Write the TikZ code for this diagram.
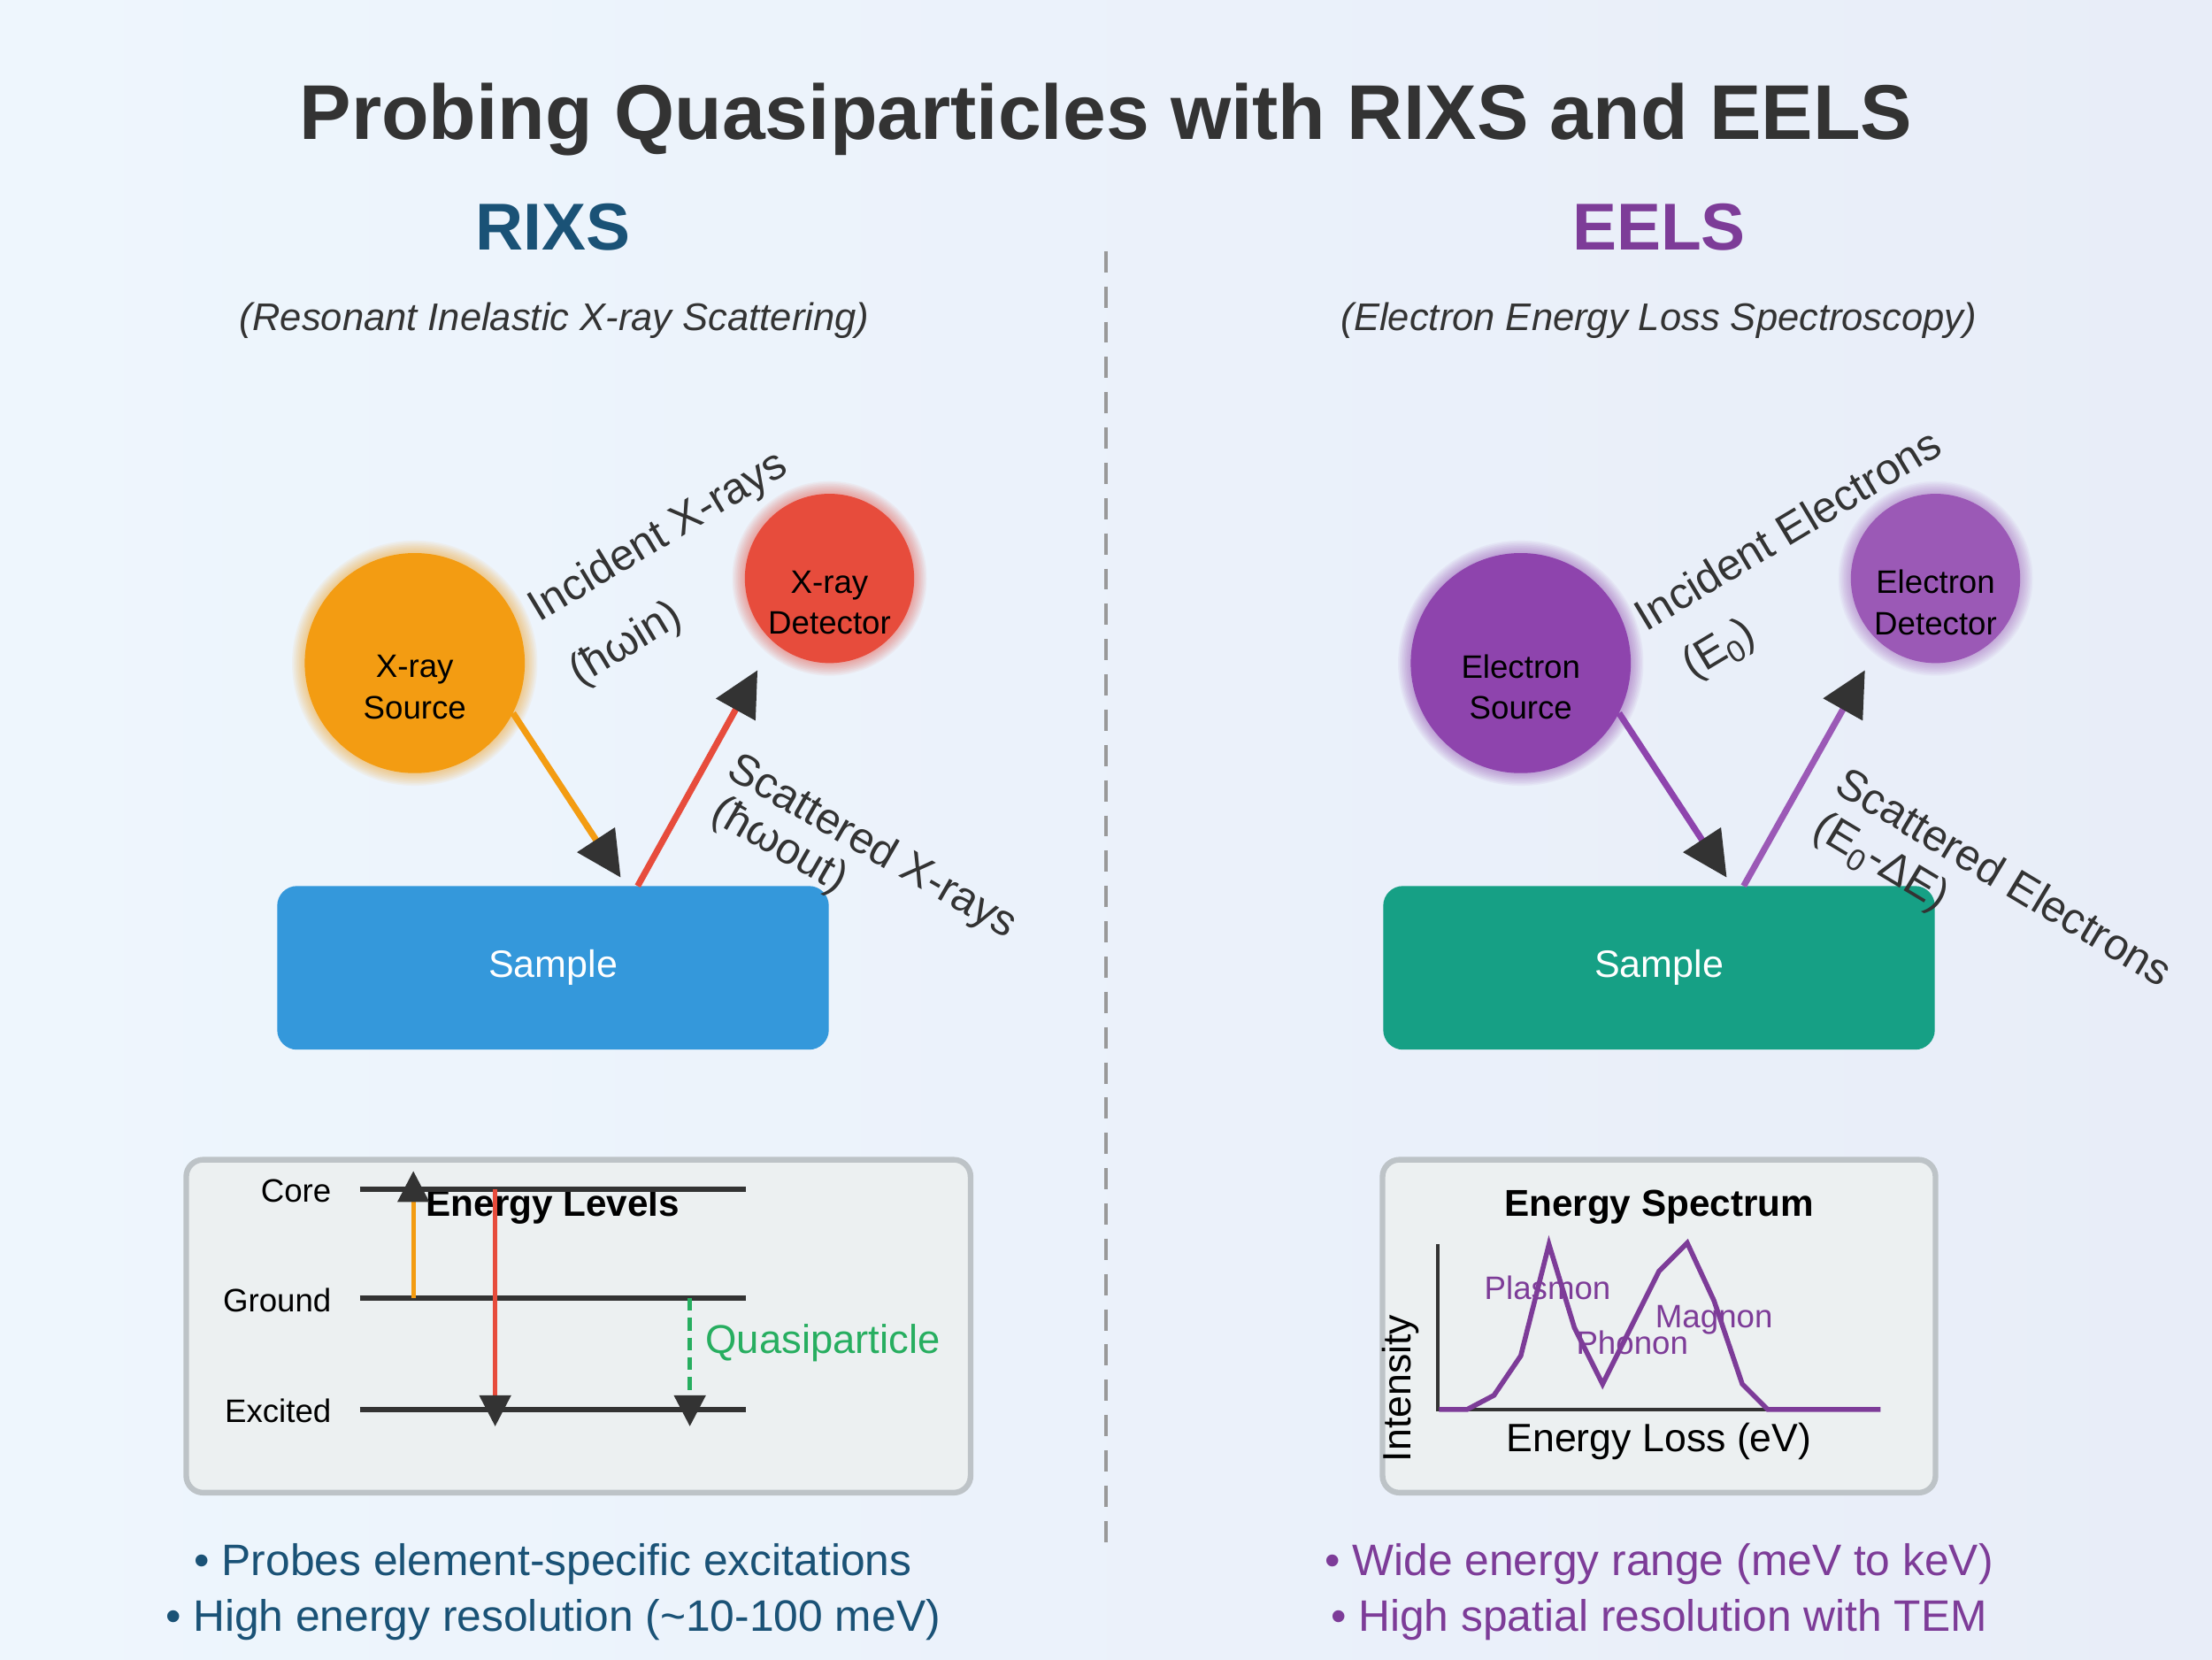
\documentclass[tikz,border=0pt]{standalone}
\usepackage{fontspec}
\setmainfont{Liberation Sans}
\usetikzlibrary{arrows.meta,positioning,calc}

\definecolor{TitleGray}{HTML}{333333}
\definecolor{RixsBlue}{HTML}{1A5276}
\definecolor{EelsPurple}{HTML}{7D3C98}
\definecolor{XraySource}{HTML}{F39C12}
\definecolor{XrayDetector}{HTML}{E74C3C}
\definecolor{ElecSource}{HTML}{8E44AD}
\definecolor{ElecDetector}{HTML}{9B59B6}
\definecolor{SampleBlue}{HTML}{3498DB}
\definecolor{SampleTeal}{HTML}{16A085}
\definecolor{HeadDark}{HTML}{333333}
\definecolor{PanelFill}{HTML}{ECF0F1}
\definecolor{PanelEdge}{HTML}{BDC3C7}
\definecolor{QuasiGreen}{HTML}{27AE60}
\definecolor{DividerGray}{HTML}{999999}
\definecolor{BgLeft}{HTML}{EEF6FD}
\definecolor{BgRight}{HTML}{E8EDF8}

\newcommand{\fs}[2]{\fontsize{#1}{#2}\selectfont}
% soft halo round a disc
\newcommand{\glowdisc}[3]{%
    \foreach \g in {1,...,9}{\fill[#3, opacity=0.06] (#1) circle[radius={#2pt+\g pt}];}}

\tikzset{
    % Base text style
    basetext/.style={
        inner sep=0pt,
        text=TitleGray
    },
    % Headings
    titlenode/.style={basetext, font=\fs{55}{66}\bfseries},
    headnode/.style={basetext, font=\fs{47}{56}\bfseries},
    subnode/.style={basetext, font=\fs{27.3}{32}\itshape},
    % Sources and detectors
    sourcenode/.style={
        circle,
        minimum size=156pt,
        inner sep=0pt
    },
    detectornode/.style={
        circle,
        minimum size=120pt,
        inner sep=0pt
    },
    disctext/.style={basetext, text=black, align=center, font=\fs{23}{29}},
    % Sample block
    samplenode/.style={
        rounded corners=14pt,
        minimum width=391pt,
        minimum height=116pt,
        text=white,
        font=\fs{27}{32}
    },
    % Beam labels
    beamlabel/.style={basetext, font=\fs{31}{37}},
    % Beam arrow
    myarrow/.style={
        line width=4.5pt,
        -{Triangle[length=32pt,width=31pt,color=HeadDark]}
    },
    % Inset panels
    panelbox/.style={
        draw=PanelEdge,
        fill=PanelFill,
        line width=4pt,
        rounded corners=12pt
    },
    paneltitle/.style={basetext, text=black, font=\fs{26.5}{31}\bfseries},
    levellabel/.style={basetext, text=black, font=\fs{23}{27}},
    levelline/.style={draw=HeadDark, line width=4pt},
    levelarrow/.style={
        line width=3pt,
        -{Triangle[length=22pt,width=22pt,color=HeadDark]}
    },
    peaklabel/.style={basetext, text=EelsPurple, font=\fs{23}{27}},
    axislabel/.style={basetext, text=black, font=\fs{28}{33}},
    % Bullet lines
    bulletnode/.style={basetext, font=\fs{31.2}{37}}
}

\begin{document}
\begin{tikzpicture}[x=1pt, y=-1pt]
    % Background
    \shade[left color=BgLeft, right color=BgRight] (0,0) rectangle (1568,1176);
    \useasboundingbox (0,0) rectangle (1568,1176);

    % Titles
    \node[titlenode, anchor=base] (title) at (784,99) {Probing Quasiparticles with RIXS and EELS};
    \node[headnode, anchor=base, text=RixsBlue] (rixs) at (392,177) {RIXS};
    \node[headnode, anchor=base, text=EelsPurple] (eels) at (1176,177) {EELS};
    \node[subnode, anchor=base] (rixssub) at (393,234) {(Resonant Inelastic X-ray Scattering)};
    \node[subnode, anchor=base] (eelssub) at (1176,234) {(Electron Energy Loss Spectroscopy)};

    % Divider
    \coordinate (divtop) at (784,178);
    \coordinate (divbot) at (784,1097);
    \draw[DividerGray, line width=3pt, dash pattern=on 15pt off 10pt] (divtop) -- (divbot);

    % RIXS setup
    \coordinate (xsrcC) at (294,470);
    \coordinate (xdetC) at (588,410);
    \glowdisc{xsrcC}{78}{XraySource}
    \glowdisc{xdetC}{60}{XrayDetector}
    \node[sourcenode, fill=XraySource] (xsrc) at (xsrcC) {};
    \node[detectornode, fill=XrayDetector] (xdet) at (xdetC) {};
    \node[disctext] (xsrctxt) at (294,487) {X-ray\\Source};
    \node[disctext] (xdettxt) at (588,427) {X-ray\\Detector};
    \node[samplenode, fill=SampleBlue] (xsample) at (392,686) {Sample};

    \coordinate (xhit) at (440,622);
    \coordinate (xout) at (452,628);
    \coordinate (xcatch) at (537,475);
    \draw[myarrow, draw=XraySource] (xsrc.-27) -- (xhit);
    \draw[myarrow, draw=XrayDetector] (xout) -- (xcatch);

    \node[beamlabel, rotate=31] (xinlbl) at (467,381) {Incident X-rays};
    \node[beamlabel, rotate=31] (xinE) at (444,457) {(ħωin)};
    \node[beamlabel, rotate=-30] (xoutlbl) at (618,601) {Scattered X-rays};
    \node[beamlabel, rotate=-30] (xoutE) at (552,600) {(ħωout)};

    % EELS setup
    \coordinate (esrcC) at (1078,470);
    \coordinate (edetC) at (1372,410);
    \glowdisc{esrcC}{78}{ElecSource}
    \glowdisc{edetC}{60}{ElecDetector}
    \node[sourcenode, fill=ElecSource] (esrc) at (esrcC) {};
    \node[detectornode, fill=ElecDetector] (edet) at (edetC) {};
    \node[disctext] (esrctxt) at (1078,487) {Electron\\Source};
    \node[disctext] (edettxt) at (1372,427) {Electron\\Detector};
    \node[samplenode, fill=SampleTeal] (esample) at (1176,686) {Sample};

    \coordinate (ehit) at (1224,622);
    \coordinate (eout) at (1236,628);
    \coordinate (ecatch) at (1322,475);
    \draw[myarrow, draw=ElecSource] (esrc.-27) -- (ehit);
    \draw[myarrow, draw=ElecDetector] (eout) -- (ecatch);

    \node[beamlabel, rotate=31] (einlbl) at (1267,375) {Incident Electrons};
    \node[beamlabel, rotate=31] (einE) at (1219,461) {(E\textsubscript{0})};
    \node[beamlabel, rotate=-31] (eoutlbl) at (1421,621) {Scattered Electrons};
    \node[beamlabel, rotate=-31] (eoutE) at (1333,612) {(E\textsubscript{0}-ΔE)};

    % Energy levels panel
    \draw[panelbox] (132,822) rectangle (688,1058);
    \node[paneltitle, anchor=base] (levtitle) at (392,862) {Energy Levels};
    \coordinate (coreL) at (255,843);   \coordinate (coreR) at (529,843);
    \coordinate (groundL) at (255,920); \coordinate (groundR) at (529,920);
    \coordinate (excL) at (255,999);    \coordinate (excR) at (529,999);
    \draw[levelline] (coreL) -- (coreR);
    \draw[levelline] (groundL) -- (groundR);
    \draw[levelline] (excL) -- (excR);
    \node[levellabel, anchor=base east] (corelbl) at (235,852) {Core};
    \node[levellabel, anchor=base east] (groundlbl) at (235,930) {Ground};
    \node[levellabel, anchor=base east] (exclbl) at (235,1008) {Excited};

    \coordinate (absfrom) at (293,920); \coordinate (absto) at (293,830);
    \coordinate (emfrom) at (351,843);  \coordinate (emto) at (351,1011);
    \coordinate (qpfrom) at (489,920);  \coordinate (qpto) at (489,1011);
    \draw[levelarrow, draw=XraySource] (absfrom) -- (absto);
    \draw[levelarrow, draw=XrayDetector] (emfrom) -- (emto);
    \draw[levelarrow, draw=QuasiGreen, dash pattern=on 9pt off 5pt] (qpfrom) -- (qpto);
    \node[basetext, text=QuasiGreen, font=\fs{28.5}{33}, anchor=base west] (qplbl) at (500,959) {Quasiparticle};

    % Energy spectrum panel
    \draw[panelbox] (980,822) rectangle (1372,1058);
    \node[paneltitle, anchor=base] (spectitle) at (1176,862) {Energy Spectrum};
    \coordinate (axtop) at (1019,882);
    \coordinate (axorig) at (1019,999);
    \coordinate (axend) at (1333,999);
    \draw[HeadDark, line width=2.5pt] (axtop) -- (axorig) -- (axend);
    \draw[EelsPurple, line width=3.5pt] plot coordinates {(1020,999) (1040,999) (1059,989) (1078,961) (1098,882) (1116,941) (1136,981) (1157,939) (1176,901) (1196,881) (1215,922) (1235,981) (1253,999) (1333,999)};
    \node[peaklabel, anchor=base] (plasmon) at (1097,921) {Plasmon};
    \node[peaklabel, anchor=base] (phonon) at (1157,960) {Phonon};
    \node[peaklabel, anchor=base] (magnon) at (1215,941) {Magnon};
    \node[axislabel, anchor=base] (xaxlbl) at (1176,1029) {Energy Loss (eV)};
    \node[axislabel, anchor=base, rotate=90] (yaxlbl) at (1000,984) {Intensity};

    % Key points
    \node[bulletnode, anchor=base, text=RixsBlue] (rixsb1) at (392,1117) {• Probes element-specific excitations};
    \node[bulletnode, anchor=base, text=RixsBlue] (rixsb2) at (392,1156) {• High energy resolution (\textasciitilde10-100 meV)};
    \node[bulletnode, anchor=base, text=EelsPurple] (eelsb1) at (1176,1117) {• Wide energy range (meV to keV)};
    \node[bulletnode, anchor=base, text=EelsPurple] (eelsb2) at (1176,1156) {• High spatial resolution with TEM};
\end{tikzpicture}
\end{document}
